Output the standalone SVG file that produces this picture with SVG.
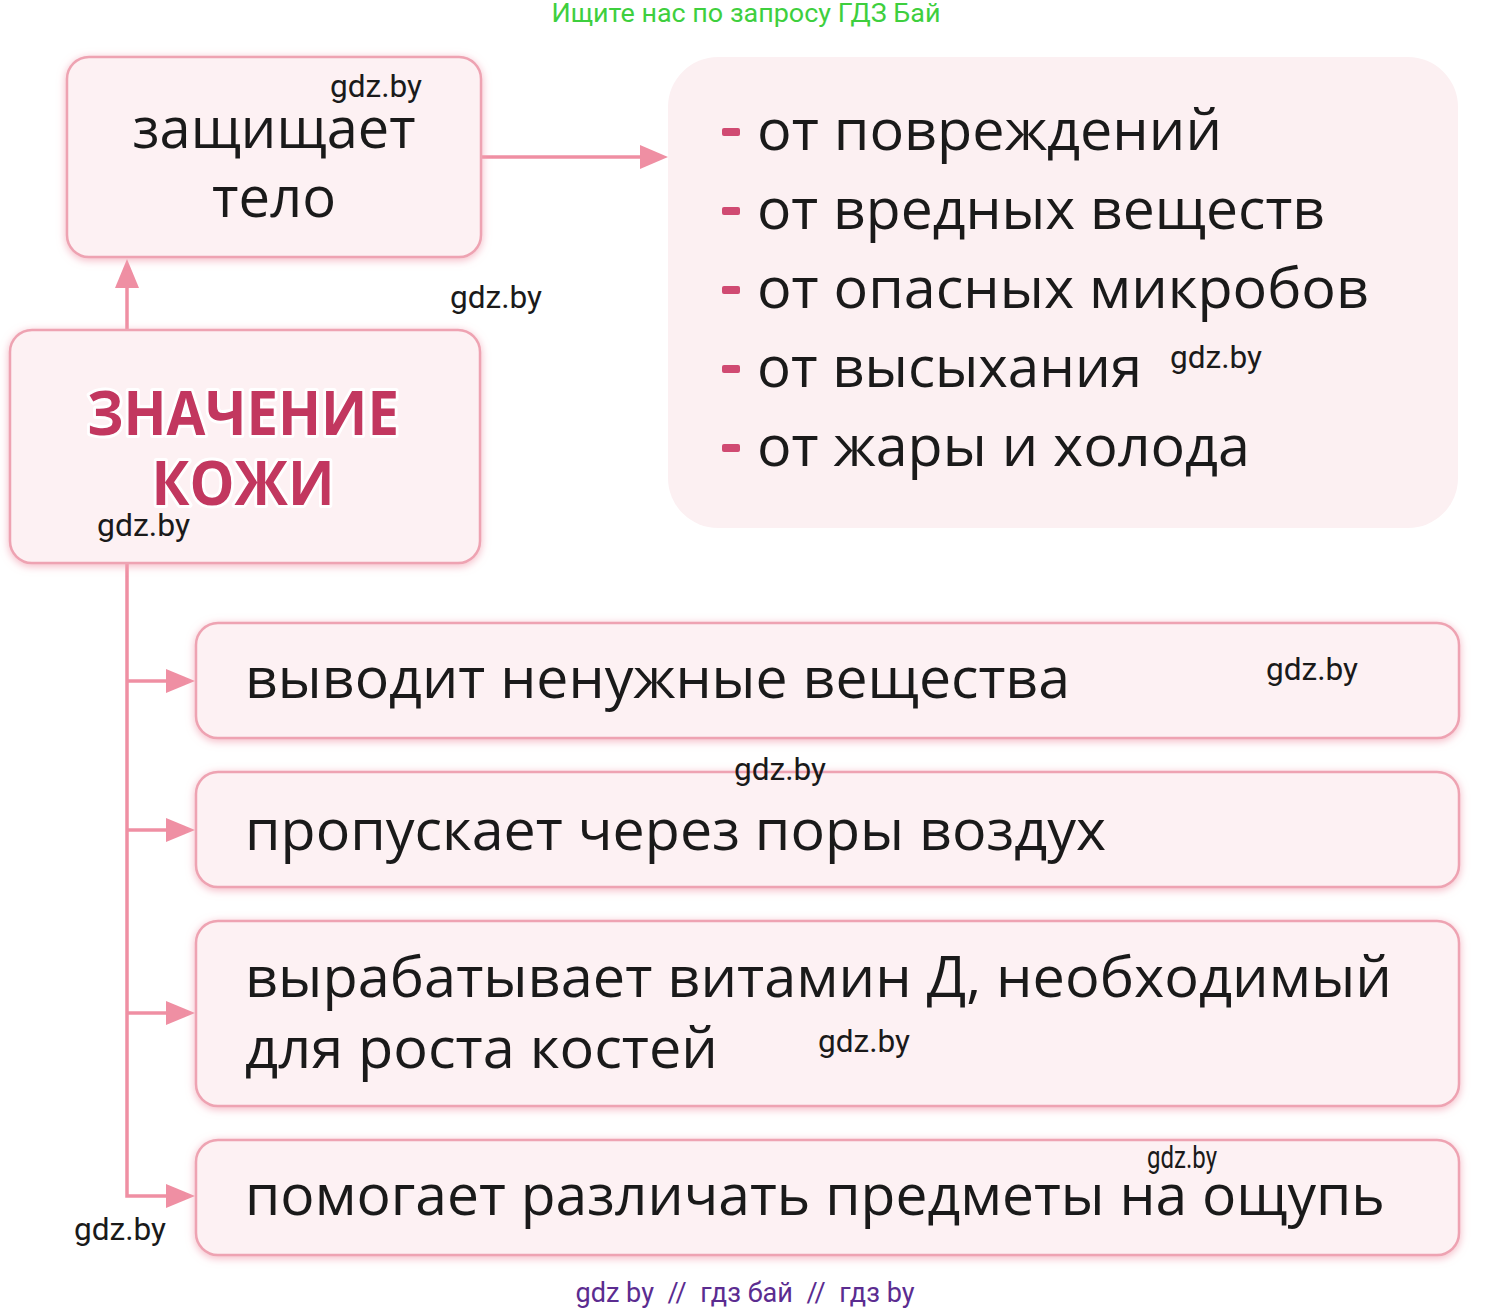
<svg xmlns="http://www.w3.org/2000/svg" width="1493" height="1311" viewBox="0 0 1493 1311">
<style>
.box{fill:#fdf1f3;stroke:#eea3b2;stroke-width:2.5;filter:url(#glow)}
.big{font-family:"Open Sans","Liberation Sans",sans-serif;font-size:56px;fill:#1a1a1a}
.dash{fill:#d04a72}
.wm{font-family:Roboto,"Liberation Sans",sans-serif;font-size:31px;fill:#1a1a1a}
.title{font-family:"Open Sans","Liberation Sans",sans-serif;font-weight:bold;font-size:60px;fill:#c2375f;stroke:#ffffff;stroke-width:6;paint-order:stroke;stroke-linejoin:round}
.conn{stroke:#ef8fa3;stroke-width:3.5;fill:none}
.head{fill:#ef8fa3}
</style>
<defs>
<filter id="glow" x="-10%" y="-20%" width="120%" height="140%">
<feDropShadow dx="0" dy="2" stdDeviation="4" flood-color="#f2a5b5" flood-opacity="0.8"/>
</filter>
</defs>
<rect width="1493" height="1311" fill="#ffffff"/>
<text x="746" y="22" text-anchor="middle" font-family="Roboto,'Liberation Sans',sans-serif" font-size="26" fill="#3ecf3e" textLength="389" lengthAdjust="spacingAndGlyphs">Ищите нас по запросу ГДЗ Бай</text>

<g id="connectors">
<line class="conn" x1="482" y1="157" x2="640" y2="157"/>
<path class="head" d="M640,145 L668,157 L640,169 Z"/>
<line class="conn" x1="127" y1="330" x2="127" y2="286"/>
<path class="head" d="M115,288 L127,259 L139,288 Z"/>
<path class="conn" d="M127,563 L127,1196 L168,1196"/>
<line class="conn" x1="127" y1="681" x2="168" y2="681"/>
<line class="conn" x1="127" y1="830" x2="168" y2="830"/>
<line class="conn" x1="127" y1="1013" x2="168" y2="1013"/>
<path class="head" d="M166,669 L195,681 L166,693 Z"/>
<path class="head" d="M166,818 L195,830 L166,842 Z"/>
<path class="head" d="M166,1001 L195,1013 L166,1025 Z"/>
<path class="head" d="M166,1184 L195,1196 L166,1208 Z"/>
</g>

<g id="node-protect">
<rect class="box" x="67" y="57" width="414" height="200" rx="22"/>
<text class="big" x="274" y="148" text-anchor="middle" textLength="283" lengthAdjust="spacingAndGlyphs">защищает</text>
<text class="big" x="274" y="217" text-anchor="middle" textLength="124" lengthAdjust="spacingAndGlyphs">тело</text>
</g>

<g id="node-main">
<rect class="box" x="10" y="330" width="470" height="233" rx="22"/>
<text class="title" x="243" y="435" text-anchor="middle" textLength="312" lengthAdjust="spacingAndGlyphs">ЗНАЧЕНИЕ</text>
<text class="title" x="243" y="505" text-anchor="middle" textLength="183" lengthAdjust="spacingAndGlyphs">КОЖИ</text>
</g>

<g id="node-list">
<rect x="668" y="57" width="790" height="471" rx="50" fill="#fcf0f2"/>
<rect class="dash" x="722" y="128" width="18" height="8" rx="2"/>
<rect class="dash" x="722" y="207" width="18" height="8" rx="2"/>
<rect class="dash" x="722" y="286" width="18" height="8" rx="2"/>
<rect class="dash" x="722" y="365" width="18" height="8" rx="2"/>
<rect class="dash" x="722" y="444" width="18" height="8" rx="2"/>
<text class="big" x="757" y="150" textLength="465" lengthAdjust="spacingAndGlyphs">от повреждений</text>
<text class="big" x="757" y="229" textLength="568" lengthAdjust="spacingAndGlyphs">от вредных веществ</text>
<text class="big" x="757" y="308" textLength="612" lengthAdjust="spacingAndGlyphs">от опасных микробов</text>
<text class="big" x="757" y="387" textLength="385" lengthAdjust="spacingAndGlyphs">от высыхания</text>
<text class="big" x="757" y="466" textLength="493" lengthAdjust="spacingAndGlyphs">от жары и холода</text>
</g>

<g id="node-excrete">
<rect class="box" x="196" y="623" width="1263" height="115" rx="22"/>
<text class="big" x="245" y="698" textLength="825" lengthAdjust="spacingAndGlyphs">выводит ненужные вещества</text>
</g>
<g id="node-air">
<rect class="box" x="196" y="772" width="1263" height="115" rx="22"/>
<text class="big" x="245" y="850" textLength="861" lengthAdjust="spacingAndGlyphs">пропускает через поры воздух</text>
</g>
<g id="node-vitamin">
<rect class="box" x="196" y="921" width="1263" height="185" rx="22"/>
<text class="big" x="245" y="997" textLength="1147" lengthAdjust="spacingAndGlyphs">вырабатывает витамин Д, необходимый</text>
<text class="big" x="245" y="1068" textLength="473" lengthAdjust="spacingAndGlyphs">для роста костей</text>
</g>
<g id="node-touch">
<rect class="box" x="196" y="1140" width="1263" height="115" rx="22"/>
<text class="big" x="245" y="1215" textLength="1140" lengthAdjust="spacingAndGlyphs">помогает различать предметы на ощупь</text>
</g>

<g id="watermarks">
<text class="wm" x="330" y="97" textLength="92" lengthAdjust="spacingAndGlyphs">gdz.by</text>
<text class="wm" x="450" y="308" textLength="92" lengthAdjust="spacingAndGlyphs">gdz.by</text>
<text class="wm" x="97" y="536" textLength="93" lengthAdjust="spacingAndGlyphs">gdz.by</text>
<text class="wm" x="1170" y="368" font-size="29" textLength="92" lengthAdjust="spacingAndGlyphs">gdz.by</text>
<text class="wm" x="1266" y="680" textLength="92" lengthAdjust="spacingAndGlyphs">gdz.by</text>
<text class="wm" x="734" y="780" textLength="92" lengthAdjust="spacingAndGlyphs">gdz.by</text>
<text class="wm" x="818" y="1052" textLength="92" lengthAdjust="spacingAndGlyphs">gdz.by</text>
<text class="wm" x="1147" y="1168" font-size="23" textLength="70" lengthAdjust="spacingAndGlyphs">gdz.by</text>
<text class="wm" x="74" y="1240" textLength="92" lengthAdjust="spacingAndGlyphs">gdz.by</text>
</g>
<text x="745" y="1302" text-anchor="middle" font-family="Roboto,'Liberation Sans',sans-serif" font-size="27" fill="#5b2c90" xml:space="preserve" textLength="339" lengthAdjust="spacingAndGlyphs">gdz by  //  гдз бай  //  гдз by</text>
</svg>
